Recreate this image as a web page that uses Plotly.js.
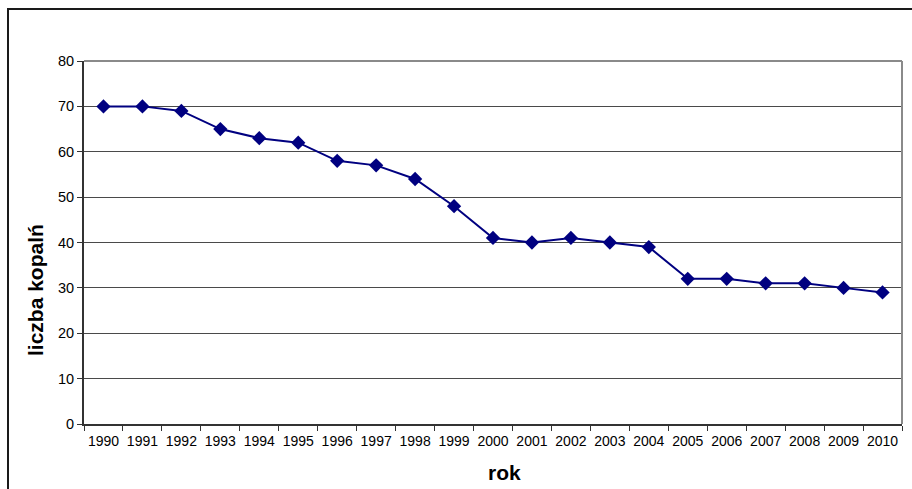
<!DOCTYPE html>
<html>
<head>
<meta charset="utf-8">
<script src="https://cdn.plot.ly/plotly-3.0.1.min.js"></script>
<style>
  html, body { margin: 0; padding: 0; background: #ffffff; }
  #wrap { position: relative; width: 912px; height: 489px; overflow: hidden; }
  #frame { position: absolute; left: 7px; top: 8px; width: 920px; height: 500px;
           border-left: 2px solid #1a1a1a; border-top: 2px solid #1a1a1a; }
  #chart { position: absolute; left: 0; top: 0; width: 912px; height: 489px; }
</style>
</head>
<body>
<div id="wrap">
  <div id="frame"></div>
  <div id="chart"></div>
</div>
<script>
// Liczba czynnych kopalń w latach 1990-2010
const years = ['1990','1991','1992','1993','1994','1995','1996','1997','1998','1999','2000',
               '2001','2002','2003','2004','2005','2006','2007','2008','2009','2010'];
const mines = [70, 70, 69, 65, 63, 62, 58, 57, 54, 48, 41, 40, 41, 40, 39, 32, 32, 31, 31, 30, 29];
const yTicks = [0, 10, 20, 30, 40, 50, 60, 70, 80];

const FONT = 'Arial, "Liberation Sans", sans-serif';

const trace = {
  type: 'scatter',
  mode: 'lines+markers',
  x: years,
  y: mines,
  line: { color: '#000080', width: 2 },
  marker: { symbol: 'diamond', size: 11, color: '#000080' },
  hoverinfo: 'x+y',
  cliponaxis: false
};

const layout = {
  width: 912,
  height: 489,
  margin: { l: 84, r: 10, t: 61, b: 65 },
  paper_bgcolor: 'rgba(0,0,0,0)',
  plot_bgcolor: 'rgba(0,0,0,0)',
  showlegend: false,
  font: { family: FONT, size: 14, color: '#000000' },
  xaxis: {
    type: 'category',
    range: [-0.5, years.length - 0.5],
    tickson: 'boundaries',
    tickangle: 0,
    ticks: 'outside',
    ticklen: 5,
    tickwidth: 1,
    tickcolor: '#333333',
    ticklabelstandoff: 3,
    showline: true,
    linecolor: '#333333',
    linewidth: 2,
    showgrid: false,
    zeroline: false,
    tickfont: { family: FONT, size: 14, color: '#000000' },
    fixedrange: true
  },
  yaxis: {
    range: [0, 80],
    tickvals: yTicks,
    ticks: 'outside',
    ticklen: 5,
    tickwidth: 1,
    tickcolor: '#333333',
    showline: true,
    linecolor: '#333333',
    linewidth: 2,
    showgrid: true,
    gridcolor: '#4a4a4a',
    gridwidth: 1,
    zeroline: false,
    tickfont: { family: FONT, size: 14.5, color: '#000000' },
    fixedrange: true
  },
  shapes: [
    { type: 'line', xref: 'paper', yref: 'paper', x0: 0, x1: 1, y0: 1, y1: 1,
      line: { color: '#8a8a8a', width: 2 } },
    { type: 'line', xref: 'paper', yref: 'paper', x0: 1, x1: 1, y0: 0, y1: 1,
      line: { color: '#8a8a8a', width: 2 } }
  ],
  annotations: [
    { text: '<b>rok</b>', xref: 'paper', yref: 'paper',
      x: (504 - 84) / 818, y: (424 - 472) / 363,
      xanchor: 'center', yanchor: 'middle', showarrow: false,
      font: { family: FONT, size: 21, color: '#000000' } },
    { text: '<b>liczba kopalń</b>', xref: 'paper', yref: 'paper',
      x: (35 - 84) / 818, y: (424 - 290) / 363,
      xanchor: 'center', yanchor: 'middle', textangle: -90, showarrow: false,
      font: { family: FONT, size: 21, color: '#000000' } }
  ]
};

Plotly.newPlot('chart', [trace], layout, { displayModeBar: false, staticPlot: true });
</script>
</body>
</html>
